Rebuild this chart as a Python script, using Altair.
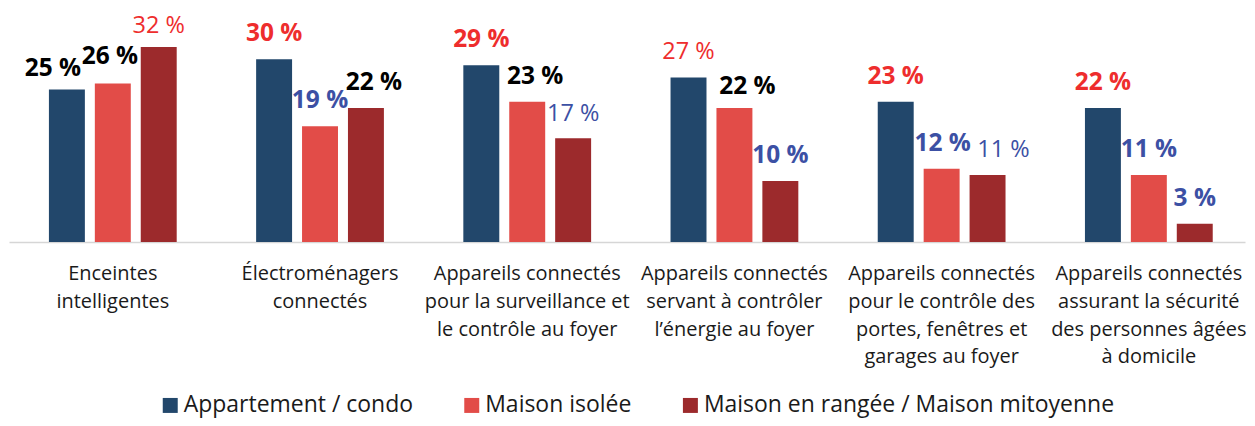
import altair as alt
import pandas as pd

categories = [
    ["Enceintes", "intelligentes"],
    ["Électroménagers", "connectés"],
    ["Appareils connectés", "pour la surveillance et", "le contrôle au foyer"],
    ["Appareils connectés", "servant à contrôler", "l’énergie au foyer"],
    ["Appareils connectés", "pour le contrôle des", "portes, fenêtres et", "garages au foyer"],
    ["Appareils connectés", "assurant la sécurité", "des personnes âgées", "à domicile"],
]
series = ["Appartement / condo", "Maison isolée", "Maison en rangée / Maison mitoyenne"]
appartement = [25, 30, 29, 27, 23, 22]
isolee = [26, 19, 23, 22, 12, 11]
rangee = [32, 22, 17, 10, 11, 3]

# label styling per bar (colour key, bold flag), as in the source
label_color_appart = ["black", "red", "red", "red", "red", "red"]
label_color_isolee = ["black", "blue", "black", "black", "blue", "blue"]
label_color_rangee = ["red", "black", "blue", "blue", "blue", "blue"]
label_bold_appart = [True, True, True, False, True, True]
label_bold_isolee = [True, True, True, True, True, True]
label_bold_rangee = [False, True, False, True, False, True]
# small manual label nudges (px) as placed in the source
label_dx_appart = [-14, 0, 0, 0, 0, 0]
label_dx_isolee = [-3, 0, 8, 13, 1, 0]
label_dx_rangee = [0, 8, 0, 0, 16, 0]
label_lift_appart = [14, 18, 18, 18, 18, 18]
label_lift_isolee = [20, 18, 18, 14, 18, 18]
label_lift_rangee = [13.5, 18, 17, 18, 18, 18]

bar_colors = ["#22476B", "#E24C48", "#9C2A2C"]
label_palette = {"black": "#000000", "red": "#EE2D2D", "blue": "#3C50A4"}

cat_keys = ["|".join(c) for c in categories]
rows = []
for vals, cols, bolds, dxs, lifts, s in [
    (appartement, label_color_appart, label_bold_appart, label_dx_appart, label_lift_appart, series[0]),
    (isolee, label_color_isolee, label_bold_isolee, label_dx_isolee, label_lift_isolee, series[1]),
    (rangee, label_color_rangee, label_bold_rangee, label_dx_rangee, label_lift_rangee, series[2]),
]:
    for k, v, c, b, dx, lift in zip(cat_keys, vals, cols, bolds, dxs, lifts):
        rows.append({"cat": k, "serie": s, "value": v, "label": f"{v} %",
                     "lcolor": label_palette[c], "bold": b, "ldx": dx, "ldy": -lift})
df = pd.DataFrame(rows)

x_enc = alt.X("cat:N", sort=cat_keys,
              scale=alt.Scale(paddingInner=0.3833, paddingOuter=0.1742, align=0.553),
              axis=alt.Axis(title=None, labelAngle=0, ticks=False,
                            labelExpr="split(datum.label, '|')",
                            labelFont="Open Sans", labelFontSize=20,
                            labelColor="#1a1a1a", labelLineHeight=27.7,
                            labelPadding=22, domainColor="#d6d6d6",
                            domainWidth=1.5, labelLimit=300))
xo_enc = alt.XOffset("serie:N", sort=series,
                     scale=alt.Scale(paddingInner=0.217, paddingOuter=0))
y_enc = alt.Y("value:Q", scale=alt.Scale(domain=[0, 38.34]), axis=None)

bars = alt.Chart(df).mark_bar().encode(
    x=x_enc, xOffset=xo_enc, y=y_enc,
    color=alt.Color("serie:N", sort=series,
                    scale=alt.Scale(domain=series, range=bar_colors),
                    legend=alt.Legend(title=None, orient="none", direction="horizontal",
                                      legendX=150, legendY=386,
                                      symbolType="square", symbolSize=225,
                                      symbolStrokeWidth=0, labelFont="Open Sans",
                                      labelFontSize=23, labelColor="#1a1a1a",
                                      labelOffset=2, columnPadding=47,
                                      labelLimit=600)),
)

text_bold = alt.Chart(df).transform_filter("datum.bold").mark_text(
    font="Open Sans", fontSize=24.5, fontWeight="bold", baseline="alphabetic",
    dx=alt.expr("datum.ldx"), dy=alt.expr("datum.ldy"),
).encode(x=x_enc, xOffset=xo_enc, y=y_enc, text="label:N",
         color=alt.Color("lcolor:N", scale=None))

text_norm = alt.Chart(df).transform_filter("!datum.bold").mark_text(
    font="Open Sans", fontSize=23.5, fontWeight="normal", baseline="alphabetic",
    dx=alt.expr("datum.ldx"), dy=alt.expr("datum.ldy"),
).encode(x=x_enc, xOffset=xo_enc, y=y_enc, text="label:N",
         color=alt.Color("lcolor:N", scale=None))

chart = alt.layer(bars, text_bold, text_norm).properties(
    width=1238, height=234,
    autosize=alt.AutoSizeParams(type="none"),
    padding={"left": 1, "top": 0, "right": 2, "bottom": 176},
).configure_view(stroke=None)

chart.save("out.html", embed_options={"renderer": "svg", "actions": False})
